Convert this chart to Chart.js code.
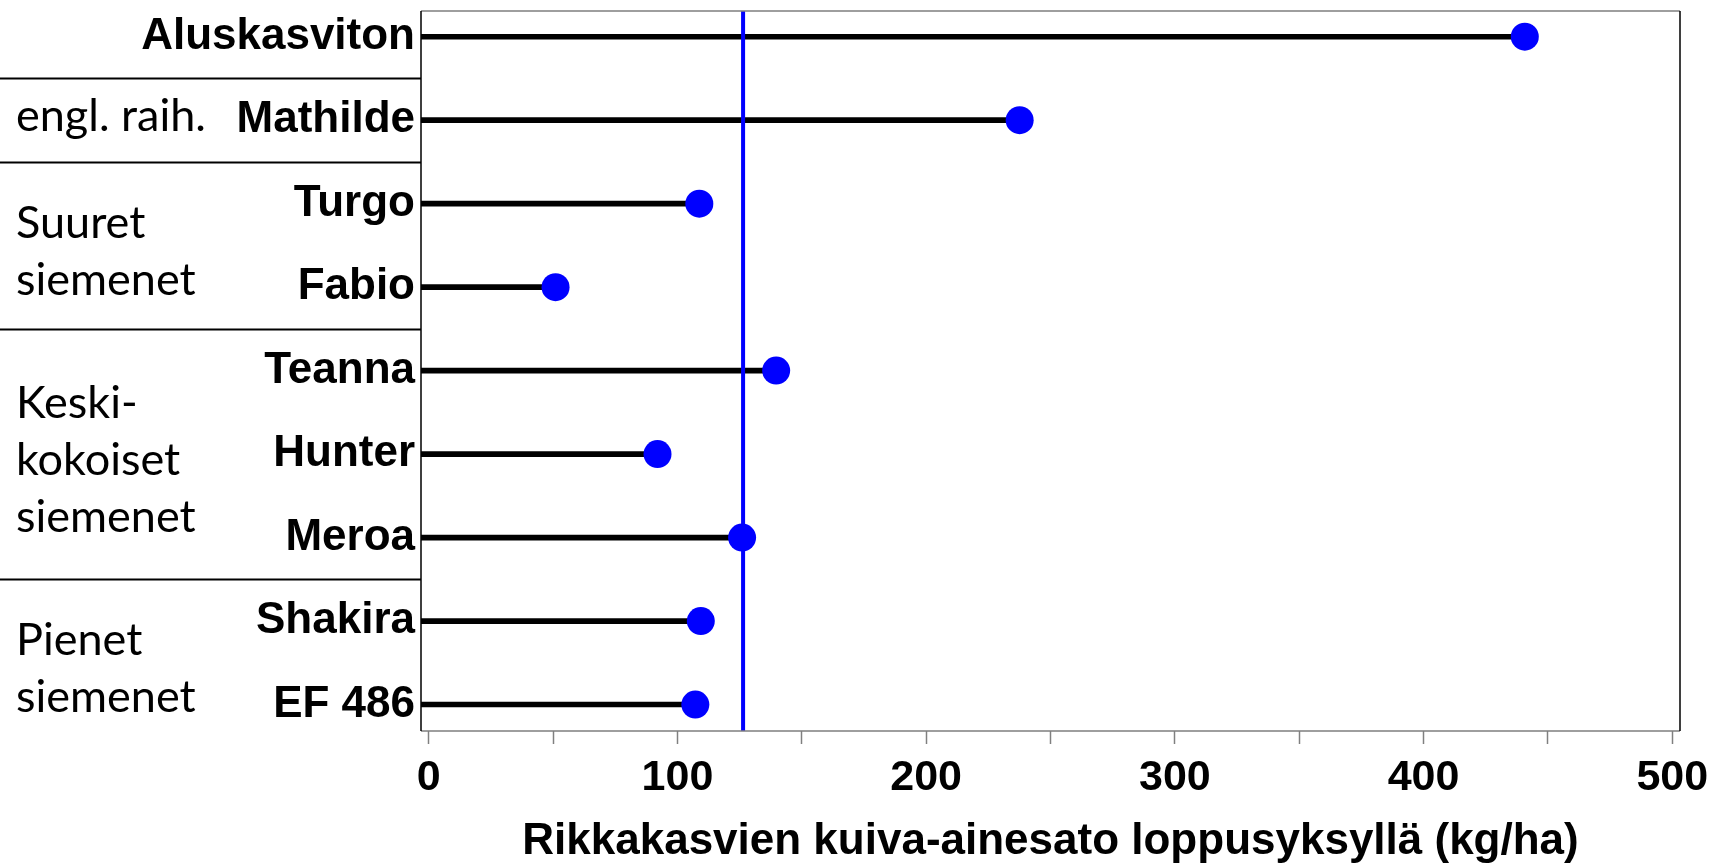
<!DOCTYPE html>
<html>
<head>
<meta charset="utf-8">
<title>Rikkakasvien kuiva-ainesato</title>
<script src="https://cdn.jsdelivr.net/npm/chart.js@4"></script>
<style>
  html, body { margin: 0; padding: 0; background: #fff; }
  #wrap { width: 1713px; height: 865px; }
</style>
</head>
<body>
<div id="wrap"><canvas id="lollipop" width="1713" height="865"></canvas></div>
<script>
// cultivars, top to bottom
const cultivars = ['Aluskasviton', 'Mathilde', 'Turgo', 'Fabio', 'Teanna', 'Hunter', 'Meroa', 'Shakira', 'EF 486'];
// weed dry matter at end of autumn (kg/ha)
const weedDM = [440.7, 237.6, 108.8, 51.0, 139.7, 92.0, 126.0, 109.4, 107.2];
// reference line (blue)
const refValue = 126.4;

// seed-size groups: label lines + first/last row index
const groupLabels = [['engl. raih.'], ['Suuret', 'siemenet'], ['Keski-', 'kokoiset', 'siemenet'], ['Pienet', 'siemenet']];
const groupFirst = [1, 2, 4, 7];
const groupLast = [1, 3, 6, 8];

const xTicks = [0, 100, 200, 300, 400, 500];
const X_MIN = -3.1, X_MAX = 503.1;
const Y_MIN = -0.308, Y_MAX = 8.317;

const BOLD = 'Liberation Sans, Arial, sans-serif';

// frame, group separators and group names
const decorations = {
  id: 'decorations',
  afterDraw(chart) {
    const { ctx, chartArea: a, scales: { y } } = chart;
    ctx.save();
    // frame
    ctx.lineWidth = 1.5;
    ctx.strokeStyle = '#7f7f7f';
    ctx.beginPath();
    ctx.moveTo(a.left, a.top); ctx.lineTo(a.right, a.top);
    ctx.moveTo(a.left, a.bottom); ctx.lineTo(a.right, a.bottom);
    ctx.stroke();
    ctx.strokeStyle = '#000';
    ctx.beginPath();
    ctx.moveTo(a.left, a.top); ctx.lineTo(a.left, a.bottom);
    ctx.moveTo(a.right, a.top); ctx.lineTo(a.right, a.bottom);
    ctx.stroke();

    // separators between groups
    ctx.lineWidth = 2;
    ctx.beginPath();
    [0].concat(groupLast.slice(0, -1)).forEach(r => {
      const py = Math.round(y.getPixelForValue(r + 0.5)) + 0.5;
      ctx.moveTo(0, py); ctx.lineTo(a.left, py);
    });
    ctx.stroke();

    // group names
    ctx.fillStyle = '#000';
    ctx.font = '45px Lato, "Open Sans", sans-serif';
    ctx.textAlign = 'left';
    ctx.textBaseline = 'alphabetic';
    const lh = 57;
    groupLabels.forEach((lines, g) => {
      const mid = (y.getPixelForValue(groupFirst[g]) + y.getPixelForValue(groupLast[g])) / 2;
      const shift = lines.length === 1 ? 11 : 21;
      lines.forEach((t, k) => {
        ctx.fillText(t, 16, mid + (k - (lines.length - 1) / 2) * lh + shift);
      });
    });
    ctx.restore();
  }
};

new Chart(document.getElementById('lollipop'), {
  type: 'scatter',
  data: {
    datasets: [
      {
        type: 'scatter',
        data: cultivars.map((c, i) => ({ x: weedDM[i], y: i })),
        backgroundColor: '#0000ff',
        borderWidth: 0,
        pointRadius: 14,
        pointHoverRadius: 14,
        order: 1
      },
      {
        type: 'line',
        data: [{ x: refValue, y: Y_MIN }, { x: refValue, y: Y_MAX }],
        borderColor: '#0000ff',
        borderWidth: 4,
        pointRadius: 0,
        fill: false,
        order: 2
      },
      {
        type: 'bar',
        indexAxis: 'y',
        data: cultivars.map((c, i) => ({ x: weedDM[i], y: i })),
        base: X_MIN,
        backgroundColor: '#000',
        borderWidth: 0,
        barThickness: 5,
        order: 3
      }
    ]
  },
  options: {
    responsive: false,
    animation: false,
    devicePixelRatio: 1,
    layout: { autoPadding: false, padding: { left: 0, right: 33, top: 11, bottom: 0 } },
    plugins: { legend: { display: false }, tooltip: { enabled: false } },
    scales: {
      x: {
        type: 'linear',
        min: X_MIN,
        max: X_MAX,
        offset: false,
        border: { display: false },
        grid: { drawOnChartArea: false, drawTicks: true, tickLength: 13, tickColor: '#808080', tickWidth: 1.5, offset: false },
        ticks: {
          stepSize: 50,
          includeBounds: false,
          maxRotation: 0,
          autoSkip: false,
          padding: 8,
          color: '#000',
          font: { family: BOLD, weight: 'bold', size: 43 },
          callback: v => xTicks.includes(v) ? String(v) : ''
        },
        title: {
          display: true,
          text: 'Rikkakasvien kuiva-ainesato loppusyksyllä (kg/ha)',
          color: '#000',
          font: { family: BOLD, weight: 'bold', size: 44, lineHeight: 1.07 },
          padding: { top: 0, bottom: 0 }
        },
        afterFit: s => { s.height = 134; s.paddingLeft = 0; s.paddingRight = 0; }
      },
      y: {
        type: 'linear',
        reverse: true,
        min: Y_MIN,
        max: Y_MAX,
        offset: false,
        border: { display: false },
        grid: { display: false, drawTicks: false },
        ticks: {
          stepSize: 1,
          includeBounds: false,
          autoSkip: false,
          padding: 6,
          color: '#000',
          font: { family: BOLD, weight: 'bold', size: 44 },
          callback: v => Number.isInteger(v) ? cultivars[v] : null
        },
        afterFit: s => { s.width = 421; s.paddingTop = 0; s.paddingBottom = 0; }
      }
    }
  },
  plugins: [decorations]
});
</script>
</body>
</html>
